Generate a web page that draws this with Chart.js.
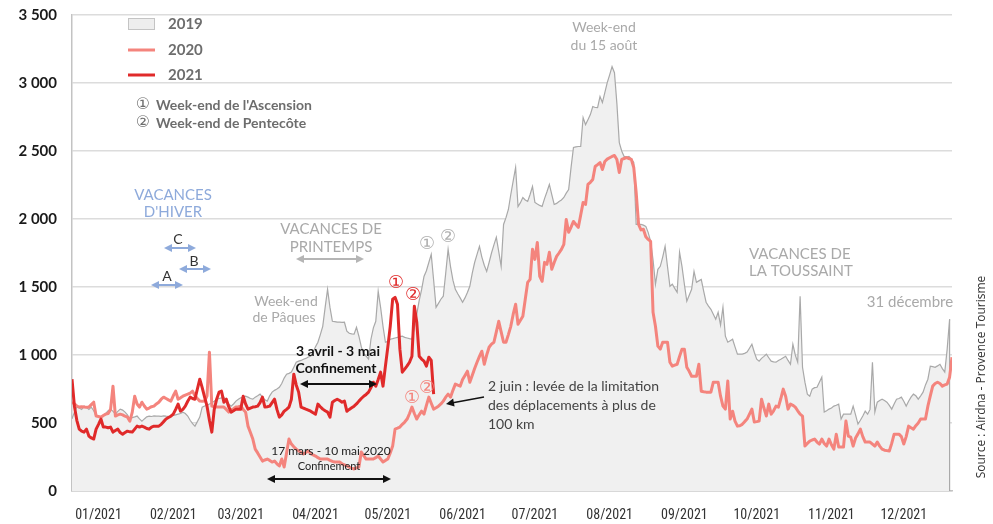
<!DOCTYPE html>
<html><head><meta charset="utf-8">
<script src="https://cdn.jsdelivr.net/npm/chart.js@4.4.0/dist/chart.umd.min.js"></script>
<style>html,body{margin:0;padding:0;background:#fff;}canvas{display:block;}</style>
</head><body>
<canvas id="c" width="993" height="524"></canvas>
<script>
// ---------------- DATA ----------------
const monthLabels = ['01/2021','02/2021','03/2021','04/2021','05/2021','06/2021','07/2021','08/2021','09/2021','10/2021','11/2021','12/2021'];
const monthStartDays = [0,31,59,90,120,151,181,212,243,273,304,334];
const seriesNames = ['2019','2020','2021'];
const yMin = 0, yMax = 3500, yStep = 500;

const v2019 = [
530,580,617,610,600,624,615,600,617,590,
551,545,548,551,570,590,602,585,565,585,
602,595,580,560,529,540,545,551,530,514,
530,545,551,548,552,550,551,549,553,550,
548,552,555,560,565,570,580,570,551,520,
495,477,510,543,617,625,630,639,650,660,
675,680,685,690,660,640,624,640,661,675,
685,690,697,690,680,675,690,700,712,690,
670,661,700,727,740,750,763,790,830,859,
865,874,910,947,955,960,969,975,985,991,
1020,1060,1094,1150,1211,1350,1483,1350,1248,1245,
1242,1241,1240,1241,1175,1160,1155,1153,1204,1138,
1060,1010,991,970,1116,1200,1248,1468,1350,1211,
1094,1100,1116,1120,1125,1130,1135,1138,1130,1125,
1120,1116,1200,1300,1400,1480,1578,1620,1680,1740,
1550,1351,1380,1410,1432,1600,1777,1650,1550,1483,
1450,1420,1388,1420,1460,1505,1600,1680,1740,1799,
1720,1660,1615,1680,1750,1810,1865,1760,1652,1960,
2010,2070,2180,2280,2379,2092,2120,2158,2140,2129,
2180,2239,2122,2110,2100,2092,2150,2200,2254,2180,
2107,2115,2129,2140,2158,2190,2217,2380,2526,2530,
2533,2533,2746,2694,2730,2768,2827,2820,2819,2900,
2856,2930,3003,3060,3120,3076,2850,2562,2500,2460,
2455,2460,2440,2415,1960,1960,1960,1955,1946,1900,
1835,1700,1520,1630,1652,1720,1799,1650,1505,1520,
1490,1461,1755,1652,1520,1395,1440,1483,1615,1534,
1545,1556,1470,1388,1360,1336,1300,1263,1314,1220,
1351,1138,1094,1105,1116,1060,1006,1006,1006,1012,
1021,1050,1079,1020,969,955,975,990,1006,980,
955,950,947,960,969,980,991,960,932,1079,
1000,947,1432,910,800,712,697,749,760,763,
800,837,580,590,602,610,624,630,639,529,
565,565,565,565,624,560,492,520,551,587,
565,600,947,580,653,665,675,665,653,630,
602,640,675,680,690,660,624,660,690,712,
700,675,700,727,780,822,918,915,910,920,
932,900,874,1043,1263
];

const v2020 = [
653,640,625,617,620,618,615,617,635,653,
551,548,543,555,565,570,600,771,551,560,
565,560,550,543,514,580,697,640,617,653,
625,602,610,620,624,640,653,675,690,680,
670,661,700,734,675,685,697,705,712,720,
734,700,680,661,660,661,700,1021,624,620,
617,617,617,617,600,580,595,605,617,620,
624,600,580,477,430,382,308,280,250,220,
228,235,225,213,220,200,184,235,176,280,
382,345,325,308,295,285,272,283,294,275,
265,257,245,235,235,235,235,225,218,213,
213,213,200,192,184,175,168,162,170,176,
286,260,235,235,235,235,245,257,235,213,
225,235,280,330,455,462,470,490,507,529,
570,617,570,529,560,587,565,630,690,645,
602,612,624,640,661,690,712,690,740,786,
778,771,820,850,881,800,850,900,947,990,
1028,932,1000,1057,1080,1094,1170,1248,1170,1094,
1094,1150,1211,1300,1373,1226,1255,1285,1410,1534,
1556,1777,1703,1828,1578,1542,1681,1667,1755,1630,
1680,1725,1750,1777,1813,1997,1902,1940,1982,1960,
1938,2030,2122,2107,2254,2270,2291,2386,2400,2415,
2364,2423,2440,2450,2460,2467,2438,2342,2438,2445,
2452,2445,2438,2379,2195,1960,1920,1925,1870,1850,
1835,1314,1211,1065,1043,1094,1094,1094,947,918,
925,932,990,1043,1043,910,880,844,844,844,
932,734,730,727,727,727,800,800,800,697,
624,602,808,529,587,514,477,480,490,510,
529,565,602,507,510,514,675,610,551,639,
565,590,624,617,680,749,697,602,639,630,
617,590,565,551,330,350,367,375,382,360,
345,382,350,330,382,340,308,418,323,323,
323,514,404,396,330,390,420,455,400,360,
360,360,345,330,360,330,308,300,297,294,
350,418,418,418,400,345,400,477,465,455,
480,500,529,529,529,624,700,771,790,800,
790,771,780,786,837,984
];

const v2021 = [
822,624,520,455,440,433,455,404,390,382,
455,490,529,470,470,465,470,433,445,455,
430,418,430,440,435,433,455,477,470,477,
470,460,455,470,477,477,477,490,510,529,
540,550,565,600,639,587,600,624,660,690,
680,675,750,822,760,690,624,520,433,600,
675,727,734,653,675,620,580,590,602,602,
602,697,640,602,610,617,620,624,650,690,
617,620,624,650,675,600,543,560,587,600,
617,675,859,780,727,617,610,602,595,587,
575,565,639,620,602,590,580,543,653,665,
675,665,653,661,587,600,612,624,640,661,
680,697,710,727,760,800,771,820,874,771,
918,1060,1211,1410,1424,1373,1043,874,896,920,
947,991,1358,1241,991,970,955,918,984,960,
712
];

// ---------------- STYLE ----------------
const C2019LINE = '#a9a9a9', C2019FILL = '#f0f0f0', C2020 = '#f4847d', C2021 = '#e02a2a';
const GREY_TXT = '#a9a9a9', BLUE = '#8eaadb';
const toXY = arr => arr.map((v, i) => ({x: i, y: v}));
const fmt = v => String(v).replace(/\B(?=(\d{3})+(?!\d))/g, ' ');

function mapRef(chart, rx, ry) {
  const a = chart.chartArea;
  return [a.left + (rx - 72) * (a.right - a.left) / 880, a.top + (ry - 15) * (a.bottom - a.top) / 476];
}
function text(ctx, s, x, y, font, color, align) {
  ctx.save(); ctx.font = font; ctx.fillStyle = color; ctx.textAlign = align || 'center'; ctx.textBaseline = 'middle';
  ctx.fillText(s, x, y); ctx.restore();
}
function head(ctx, x, y, dx, dy, L, W) {
  const len = Math.hypot(dx, dy), ux = dx / len, uy = dy / len;
  ctx.beginPath(); ctx.moveTo(x, y);
  ctx.lineTo(x - ux * L - uy * W, y - uy * L + ux * W);
  ctx.lineTo(x - ux * L + uy * W, y - uy * L - ux * W);
  ctx.closePath(); ctx.fill();
}
function arrow(ctx, x1, y1, x2, y2, color, both, lw) {
  ctx.save(); ctx.strokeStyle = color; ctx.fillStyle = color; ctx.lineWidth = lw || 1.5;
  const L = 8, W = 4;
  const len = Math.hypot(x2 - x1, y2 - y1), ux = (x2 - x1) / len, uy = (y2 - y1) / len;
  ctx.beginPath();
  ctx.moveTo(both ? x1 + ux * (L - 1) : x1, both ? y1 + uy * (L - 1) : y1);
  ctx.lineTo(x2 - ux * (L - 1), y2 - uy * (L - 1)); ctx.stroke();
  head(ctx, x2, y2, x2 - x1, y2 - y1, L, W);
  if (both) head(ctx, x1, y1, x1 - x2, y1 - y2, L, W);
  ctx.restore();
}

// closes the 2019 area outline at its last day (vertical edge down to the axis)
const areaEdge = {
  id: 'areaEdge',
  beforeDatasetsDraw(chart) {},
  afterDatasetDraw(chart, args) {
    if (args.index !== 2) return;
    const ctx = chart.ctx, xs = chart.scales.x, ys = chart.scales.y;
    const last = v2019.length - 1;
    ctx.save(); ctx.strokeStyle = C2019LINE; ctx.lineWidth = 1.2;
    ctx.beginPath(); ctx.moveTo(xs.getPixelForValue(last), ys.getPixelForValue(v2019[last]));
    ctx.lineTo(xs.getPixelForValue(last), ys.getPixelForValue(0)); ctx.stroke(); ctx.restore();
  }
};

const annotations = {
  id: 'annotations',
  afterDraw(chart) {
    const ctx = chart.ctx;
    const P = (x, y) => mapRef(chart, x, y);
    const F = (w, s) => `${w} ${s}px Lato, "DejaVu Sans", sans-serif`;
    const CF = s => `${s}px "DejaVu Sans", sans-serif`;
    // legend
    ctx.save();
    ctx.fillStyle = '#eeeeee'; ctx.strokeStyle = '#c4c4c4'; ctx.lineWidth = 1;
    ctx.fillRect(128, 18, 27, 12); ctx.strokeRect(128.5, 18.5, 26, 11);
    ctx.lineWidth = 3; ctx.strokeStyle = C2020; ctx.beginPath(); ctx.moveTo(128, 50); ctx.lineTo(155, 50); ctx.stroke();
    ctx.strokeStyle = C2021; ctx.beginPath(); ctx.moveTo(128, 75); ctx.lineTo(155, 75); ctx.stroke();
    ctx.restore();
    text(ctx, seriesNames[0], 168, 24, F('bold', 15), '#6d6d6d', 'left');
    text(ctx, seriesNames[1], 168, 50, F('bold', 15), '#6d6d6d', 'left');
    text(ctx, seriesNames[2], 168, 75, F('bold', 15), '#6d6d6d', 'left');
    text(ctx, "\u2460", 143, 105, CF(16), '#6d6d6d');
    text(ctx, "\u2461", 143, 123, CF(16), '#6d6d6d');
    text(ctx, "Week-end de l'Ascension", 156, 105, F('bold', 14), '#6d6d6d', 'left');
    text(ctx, "Week-end de Pentec\u00f4te", 156, 123, F('bold', 14), '#6d6d6d', 'left');

    // winter holidays
    let p;
    p = P(173, 195); text(ctx, 'VACANCES', p[0], p[1], F('', 15), BLUE);
    p = P(173, 212); text(ctx, "D'HIVER", p[0], p[1], F('', 15), BLUE);
    let a, b;
    a = P(164, 248); b = P(196, 248); arrow(ctx, a[0], a[1], b[0], b[1], BLUE, true, 2);
    p = P(178, 239); text(ctx, 'C', p[0], p[1], F('', 14), '#333');
    a = P(179, 269); b = P(211, 269); arrow(ctx, a[0], a[1], b[0], b[1], BLUE, true, 2);
    p = P(194, 261); text(ctx, 'B', p[0], p[1], F('', 14), '#333');
    a = P(151, 285); b = P(183, 285); arrow(ctx, a[0], a[1], b[0], b[1], BLUE, true, 2);
    p = P(167, 276); text(ctx, 'A', p[0], p[1], F('', 14), '#333');

    // spring holidays
    p = P(331, 229); text(ctx, 'VACANCES DE', p[0], p[1], F('', 15), GREY_TXT);
    p = P(331, 247); text(ctx, 'PRINTEMPS', p[0], p[1], F('', 15), GREY_TXT);
    a = P(296, 259); b = P(364, 259); arrow(ctx, a[0], a[1], b[0], b[1], '#b5b5b5', true, 2);
    p = P(286, 301); text(ctx, 'Week-end', p[0], p[1], F('', 14), GREY_TXT);
    p = P(284, 317); text(ctx, 'de P\u00e2ques', p[0], p[1], F('', 14), GREY_TXT);

    p = P(604, 27); text(ctx, 'Week-end', p[0], p[1], F('', 14), GREY_TXT);
    p = P(604, 45); text(ctx, 'du 15 ao\u00fbt', p[0], p[1], F('', 14), GREY_TXT);
    p = P(749, 254); text(ctx, 'VACANCES DE', p[0], p[1], F('', 15), GREY_TXT, 'left');
    p = P(749, 271); text(ctx, 'LA TOUSSAINT', p[0], p[1], F('', 15), GREY_TXT, 'left');
    p = P(910, 302); text(ctx, '31 d\u00e9cembre', p[0], p[1], F('', 15), GREY_TXT);

    // circled markers
    p = P(427, 244); text(ctx, '\u2460', p[0], p[1], CF(18), '#b0b0b0');
    p = P(448, 237); text(ctx, '\u2461', p[0], p[1], CF(18), '#b0b0b0');
    p = P(396, 283); text(ctx, '\u2460', p[0], p[1], CF(18), C2021);
    p = P(413, 295); text(ctx, '\u2461', p[0], p[1], CF(18), C2021);
    p = P(412, 398); text(ctx, '\u2460', p[0], p[1], CF(18), C2020);
    p = P(427, 388); text(ctx, '\u2461', p[0], p[1], CF(18), C2020);

    // lockdown 2021
    p = P(338, 351); text(ctx, '3 avril - 3 mai', p[0], p[1], F('bold', 14), '#111');
    p = P(336, 368); text(ctx, 'Confinement', p[0], p[1], F('bold', 14), '#111');
    a = P(300, 384); b = P(377, 384); arrow(ctx, a[0], a[1], b[0], b[1], '#111', true, 2);
    // lockdown 2020
    p = P(331, 451); text(ctx, '17 mars - 10 mai 2020', p[0], p[1], F('', 12), '#222');
    p = P(329, 466); text(ctx, 'Confinement', p[0], p[1], F('', 11), '#222');
    a = P(267, 479); b = P(391, 479); arrow(ctx, a[0], a[1], b[0], b[1], '#111', true, 2);
    // 2 juin
    p = P(488, 386); text(ctx, '2 juin : lev\u00e9e de la limitation', p[0], p[1], F('', 14), '#444', 'left');
    p = P(488, 405); text(ctx, 'des d\u00e9placements \u00e0 plus de', p[0], p[1], F('', 14), '#444', 'left');
    p = P(488, 424); text(ctx, '100 km', p[0], p[1], F('', 14), '#444', 'left');
    a = P(484, 397); b = P(446, 404); arrow(ctx, a[0], a[1], b[0], b[1], '#111', false, 1.5);

    // source
    ctx.save(); ctx.translate(982, 377); ctx.rotate(-Math.PI / 2);
    ctx.font = '12px "Open Sans", sans-serif'; ctx.fillStyle = '#333'; ctx.textAlign = 'center'; ctx.textBaseline = 'middle';
    ctx.fillText('Source : Airdna - Provence Tourisme', 0, 0); ctx.restore();
  }
};

Chart.defaults.font.family = 'Lato, "DejaVu Sans", sans-serif';
new Chart(document.getElementById('c'), {
  type: 'line',
  data: {
    datasets: [
      {label: seriesNames[2], data: toXY(v2021), borderColor: C2021, borderWidth: 3, pointRadius: 0, fill: false, order: 1, borderJoinStyle: 'round'},
      {label: seriesNames[1], data: toXY(v2020), borderColor: C2020, borderWidth: 3, pointRadius: 0, fill: false, order: 2, borderJoinStyle: 'round'},
      {label: seriesNames[0], data: toXY(v2019), borderColor: C2019LINE, borderWidth: 1.2, backgroundColor: C2019FILL, pointRadius: 0, fill: 'origin', order: 3}
    ]
  },
  options: {
    responsive: false, animation: false, devicePixelRatio: 1,
    layout: {padding: {left: 0, right: 41, top: 15, bottom: 0}},
    plugins: {legend: {display: false}, tooltip: {enabled: false}},
    scales: {
      x: {
        type: 'linear', min: 0, max: 365,
        grid: {display: false, drawTicks: false},
        border: {display: true, color: '#c3c3c3', width: 1.5},
        afterBuildTicks: axis => { axis.ticks = monthStartDays.map(d => ({value: d + 11})); },
        afterFit: s => { s.height = 33; s.paddingLeft = 0; s.paddingRight = 0; },
        ticks: {autoSkip: false, maxRotation: 0, padding: 16, color: '#333',
          font: {family: '"Liberation Sans Narrow", "Arial Narrow", "Roboto Condensed", sans-serif', size: 14},
          callback: (v, i) => monthLabels[i]}
      },
      y: {
        min: yMin, max: yMax,
        grid: {color: '#dcdcdc', lineWidth: 1.5, drawTicks: false},
        border: {display: true, color: '#c3c3c3', width: 1.5},
        afterFit: s => { s.width = 72; s.paddingTop = 0; s.paddingBottom = 0; },
        ticks: {stepSize: yStep, padding: 15, color: '#1a1a1a', font: {weight: 'bold', size: 15}, callback: v => fmt(v)}
      }
    }
  },
  plugins: [areaEdge, annotations]
});
</script>
</body></html>
